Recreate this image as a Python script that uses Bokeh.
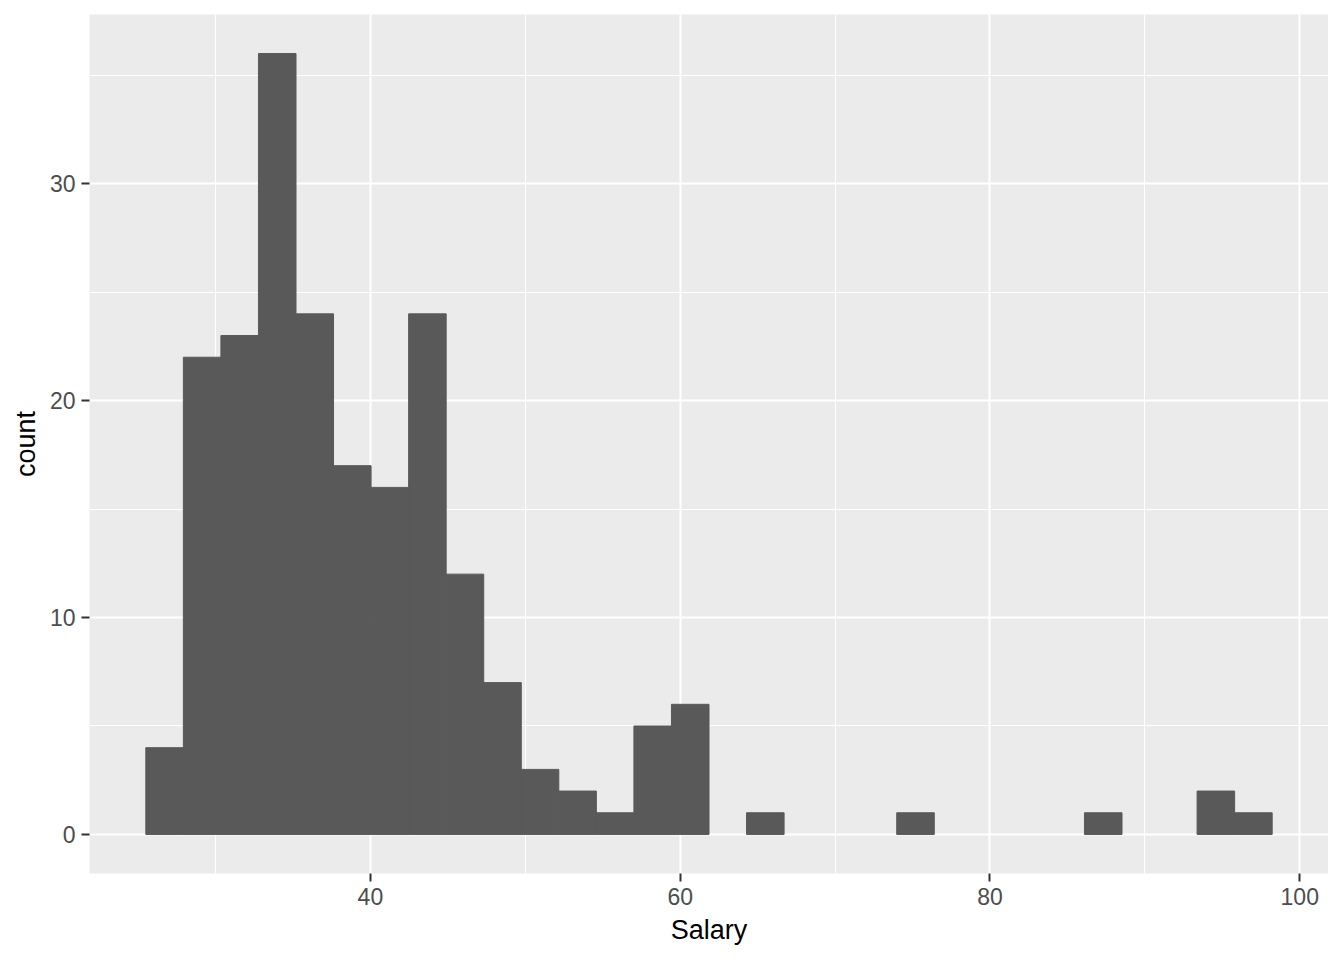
import numpy as np
from bokeh.plotting import figure
from bokeh.models import Range1d, SingleIntervalTicker, ColumnDataSource
from bokeh.embed import file_html
from bokeh.resources import INLINE

# Histogram of Salary (30 bins)
bin_start = 25.5
bin_width = 2.424
counts = [4, 22, 23, 36, 24, 17, 16, 24, 12, 7, 3, 2, 1, 5, 6,
          0, 1, 0, 0, 0, 1, 0, 0, 0, 0, 1, 0, 0, 2, 1]
x_label = "Salary"
y_label = "count"

edges = bin_start + bin_width * np.arange(len(counts) + 1)
src = ColumnDataSource(dict(left=edges[:-1], right=edges[1:],
                            top=counts, bottom=[0] * len(counts),
                            la=[1.0 if c > 0 else 0.0 for c in counts]))

span = edges[-1] - edges[0]
x0, x1 = edges[0] - 0.05 * span, edges[-1] + 0.05 * span
ymax = max(counts)
y0, y1 = -0.05 * ymax, ymax * 1.05

p = figure(frame_width=1239, frame_height=859,
           min_border_left=89, min_border_right=0, min_border_top=14, min_border_bottom=71,
           x_range=Range1d(x0, x1), y_range=Range1d(y0, y1),
           output_backend="svg", toolbar_location=None)

p.background_fill_color = "#EBEBEB"
p.border_fill_color = "white"
p.outline_line_color = None

p.quad(left="left", right="right", top="top", bottom="bottom", source=src,
       fill_color="#595959", line_color="#595959", line_width=1, line_alpha="la")

p.xaxis.ticker = SingleIntervalTicker(interval=20, num_minor_ticks=2)
p.yaxis.ticker = SingleIntervalTicker(interval=10, num_minor_ticks=2)
p.xgrid.ticker = p.xaxis.ticker
p.ygrid.ticker = p.yaxis.ticker

for g in (p.xgrid, p.ygrid):
    g.grid_line_color = "white"
    g.grid_line_width = 2
    g.minor_grid_line_color = "white"
    g.minor_grid_line_width = 1

for ax in (p.xaxis, p.yaxis):
    ax.axis_line_color = None
    ax.major_tick_line_color = "#333333"
    ax.major_tick_line_width = 2
    ax.major_tick_out = 8
    ax.major_tick_in = 0
    ax.minor_tick_line_color = None
    ax.major_label_text_font = "Liberation Sans"
    ax.major_label_text_font_size = "23px"
    ax.major_label_text_color = "#4D4D4D"
    ax.axis_label_text_font = "Liberation Sans"
    ax.axis_label_text_font_size = "27px"
    ax.axis_label_text_font_style = "normal"
    ax.axis_label_text_color = "black"

p.xaxis.axis_label = x_label
p.yaxis.axis_label = y_label
p.xaxis.major_label_standoff = 6
p.yaxis.major_label_standoff = 6
p.xaxis.axis_label_standoff = 7
p.yaxis.axis_label_standoff = 6

open("out.html", "w").write(file_html(p, INLINE))
